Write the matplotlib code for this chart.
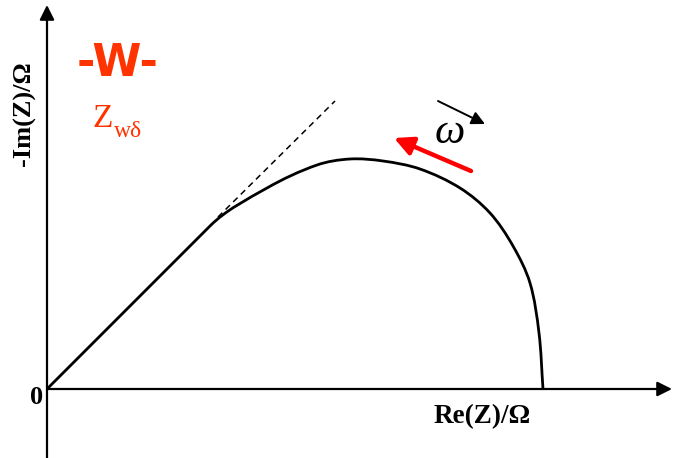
import matplotlib
matplotlib.use('Agg')
import matplotlib.pyplot as plt
import numpy as np
from matplotlib.path import Path
from matplotlib.patches import PathPatch

plt.rcParams['font.family'] = ['Liberation Serif', 'DejaVu Serif']

# impedance curve (Re, -Im), units of the sketch
# first segment is the straight 45 degree warburg part
re_z = [0, 163, 220, 270, 303, 336, 373, 413, 443, 466, 483, 492, 496]
im_z = [0, 163, 201, 224, 230, 228, 220, 201, 176, 143, 106, 56, 0]

# 45 degree asymptote (dashed)
tan_re = [171, 288]
tan_im = [172, 288]

x_end = 625
y_top = 384
y_bot = -69

RED = '#ff3300'


def smooth_path(xs, ys):
	# straight first segment, then smooth bezier through the rest
	pts = np.column_stack([xs, ys]).astype(float)
	n = len(pts)
	tang = [None]
	for i in range(1, n):
		a = pts[i - 1]
		b = pts[min(i + 1, n - 1)]
		if i == 1:
			a, b = pts[0], pts[1]
		d = b - a
		tang.append(d / np.hypot(*d))
	verts = [tuple(pts[0]), tuple(pts[1])]
	codes = [Path.MOVETO, Path.LINETO]
	for i in range(1, n - 1):
		seg = np.hypot(*(pts[i + 1] - pts[i])) / 3.0
		c1 = pts[i] + tang[i] * seg
		c2 = pts[i + 1] - tang[i + 1] * seg
		verts += [tuple(c1), tuple(c2), tuple(pts[i + 1])]
		codes += [Path.CURVE4] * 3
	return Path(verts, codes)


fig = plt.figure(figsize=(6.74, 4.58), dpi=100)
ax = fig.add_axes([0, 0, 1, 1])
ax.set_xlim(-47, 627)
ax.set_ylim(-69, 389)
ax.axis('off')

# axes with arrows
ax.annotate('', xy=(x_end, 0), xytext=(0, 0),
            arrowprops=dict(arrowstyle='-|>', lw=1.6, color='black',
                            mutation_scale=22, shrinkA=0, shrinkB=0))
ax.annotate('', xy=(0, y_top), xytext=(0, y_bot),
            arrowprops=dict(arrowstyle='-|>', lw=1.6, color='black',
                            mutation_scale=22, shrinkA=0, shrinkB=0))

ax.add_patch(PathPatch(smooth_path(re_z, im_z), fill=False, ec='black',
                       lw=2.0, joinstyle='round', capstyle='butt'))
ax.plot(tan_re, tan_im, color='black', lw=1.1, ls=(0, (4, 3)))

# frequency arrows
ax.annotate('', xy=(347, 251), xytext=(424, 218),
            arrowprops=dict(arrowstyle='-|>', lw=3.2, color='#ff0000',
                            mutation_scale=28, shrinkA=0, shrinkB=0))
ax.annotate('', xy=(438, 265), xytext=(391, 288),
            arrowprops=dict(arrowstyle='-|>', lw=1.4, color='black',
                            mutation_scale=20, shrinkA=0, shrinkB=0))
ax.text(403, 256, 'ω', fontsize=31, style='italic', ha='center', va='center')

# labels
ax.text(-23, 275, '-Im(Z)/Ω', fontsize=19, fontweight='bold', rotation=90,
        ha='center', va='center')
ax.text(-10, -8, '0', fontsize=19, fontweight='bold', ha='center', va='center')
ax.text(435, -28, 'Re(Z)/Ω', fontsize=19.5, fontweight='bold',
        ha='center', va='center')

ax.text(71, 325, '-W-', fontsize=32, color=RED, family='DejaVu Sans',
        fontweight='bold', ha='center', va='center')
ax.text(45, 262, 'Z', fontsize=24, color=RED, ha='left', va='baseline')
ax.text(67, 252, 'wδ', fontsize=17, color=RED, ha='left', va='baseline')

fig.savefig('out.png', dpi=100)
